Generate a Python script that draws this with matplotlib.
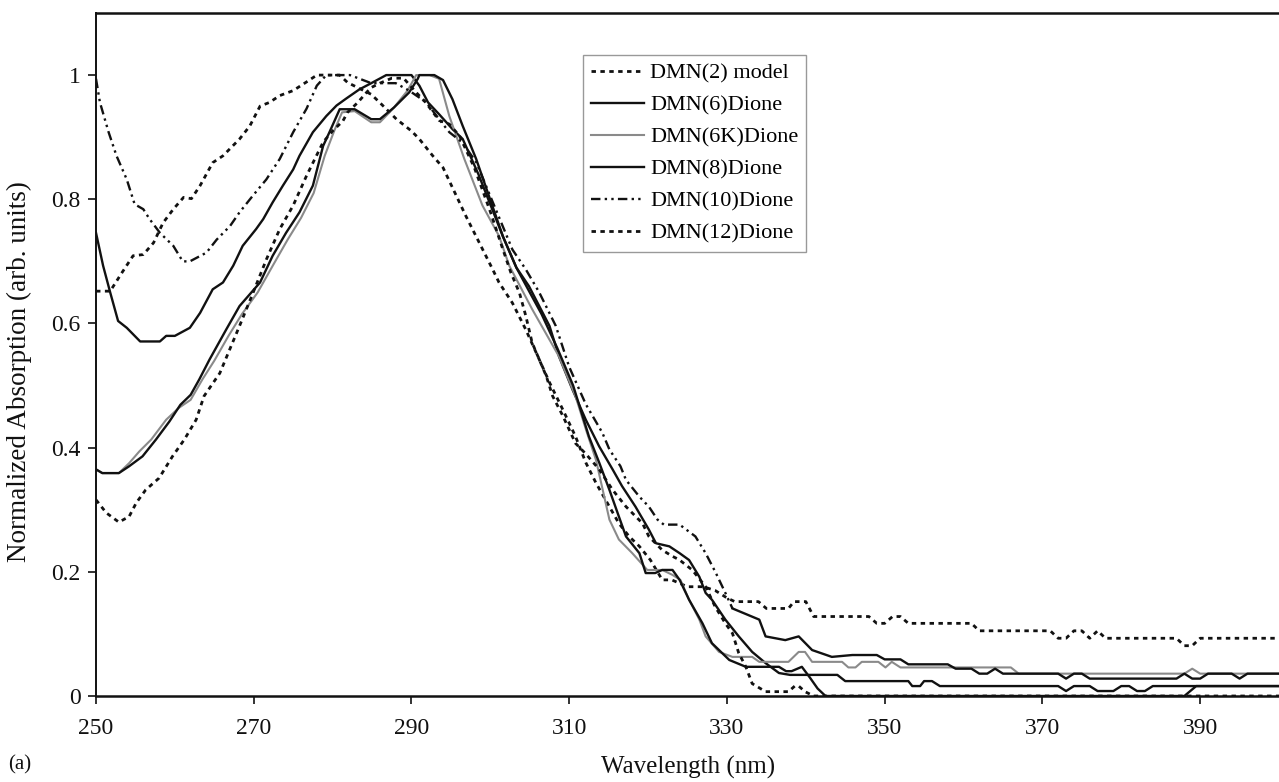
import matplotlib
matplotlib.use("Agg")
import matplotlib.pyplot as plt
from matplotlib.lines import Line2D

dmn2_model = [
    (250, 0.652), (251.8, 0.652), (253.3, 0.682), (254.7, 0.709), (256, 0.711),
    (257.3, 0.73), (258.5, 0.762), (259.8, 0.784), (261.1, 0.803), (262.1, 0.801),
    (263.2, 0.822), (264.8, 0.859), (266.1, 0.87), (268.2, 0.897), (269.5, 0.918),
    (270.8, 0.95), (272, 0.956), (273.3, 0.967), (275, 0.975), (276.7, 0.989),
    (278, 1.0), (280.9, 1.0), (281.9, 0.988), (284.9, 0.969), (286.2, 0.953),
    (288.1, 0.929), (290, 0.91), (291, 0.897), (292.7, 0.87), (294, 0.851),
    (296.9, 0.773), (300.3, 0.687), (301.1, 0.666), (302.8, 0.633), (304.5, 0.59),
    (306.2, 0.542), (307.5, 0.505), (309.2, 0.461), (310.8, 0.418), (312.1, 0.376),
    (313.4, 0.343), (316.3, 0.278), (317.6, 0.257), (318.9, 0.241), (320.3, 0.219),
    (321.8, 0.187), (323, 0.187), (325, 0.176), (327, 0.176), (328.5, 0.17),
    (330, 0.158), (331, 0.152), (334, 0.152), (335, 0.141), (337.8, 0.141),
    (338.5, 0.152), (340, 0.152), (341, 0.128), (348, 0.128), (349, 0.117),
    (350, 0.117), (351, 0.128), (352, 0.128), (353, 0.117), (361, 0.117),
    (362, 0.105), (371, 0.105), (372, 0.093), (373, 0.093), (374, 0.105),
    (375, 0.105), (376, 0.093), (377, 0.105), (378, 0.093), (387, 0.093),
    (388, 0.081), (389, 0.081), (390, 0.093), (400, 0.093),
]

dmn6 = [
    (250, 0.746), (250.9, 0.693), (251.8, 0.65), (252.8, 0.604), (253.9, 0.593),
    (255.6, 0.571), (258.1, 0.571), (258.9, 0.58), (260, 0.58), (261.9, 0.593),
    (263.2, 0.617), (264.8, 0.655), (266.1, 0.666), (267.4, 0.693), (268.6, 0.725),
    (270.3, 0.752), (271.2, 0.768), (272.4, 0.795), (273.7, 0.822), (275, 0.848),
    (275.8, 0.87), (277.5, 0.908), (279.2, 0.934), (280.5, 0.951), (281.7, 0.962),
    (283.4, 0.977), (284.9, 0.987), (286.8, 1.0), (290, 1.0), (291, 0.983),
    (292.1, 0.956), (293.5, 0.937), (295.2, 0.913), (296.5, 0.897), (298.5, 0.84),
    (301.6, 0.74), (303.3, 0.69), (304.9, 0.66), (306.2, 0.628), (307.5, 0.596),
    (308.7, 0.547), (310.4, 0.494), (312.1, 0.445), (313.8, 0.402), (315.5, 0.365),
    (316.7, 0.338), (318.4, 0.305), (320.1, 0.268), (321, 0.246), (322.7, 0.241),
    (324, 0.23), (325.2, 0.219), (326.5, 0.192), (327.3, 0.166), (328.1, 0.155),
    (329.8, 0.123), (331.5, 0.096), (333.2, 0.071), (334.9, 0.053), (336.6, 0.037),
    (338, 0.034), (344, 0.034), (345, 0.024), (353, 0.024), (353.5, 0.016),
    (354.5, 0.016), (355, 0.024), (356, 0.024), (357, 0.016), (372, 0.016),
    (373, 0.008), (374, 0.016), (376, 0.016), (377, 0.008), (379, 0.008),
    (380, 0.016), (381, 0.016), (382, 0.008), (383, 0.008), (384, 0.016),
    (400, 0.016),
]

dmn6k = [
    (250, 0.365), (250.8, 0.359), (252.9, 0.359), (254.2, 0.375), (255.5, 0.394),
    (257, 0.413), (258.9, 0.445), (260.5, 0.464), (262, 0.477), (263.5, 0.51),
    (265, 0.54), (266.8, 0.58), (268.5, 0.615), (270.5, 0.65), (272.5, 0.695),
    (274.3, 0.735), (276, 0.77), (277.6, 0.81), (279, 0.87), (280.2, 0.91),
    (281.2, 0.94), (282.8, 0.942), (284.9, 0.924), (286, 0.924), (287.6, 0.945),
    (289.5, 0.975), (290.6, 1.0), (292.3, 1.0), (293.5, 0.994), (294.8, 0.934),
    (296.7, 0.865), (299, 0.79), (301.1, 0.741), (302.4, 0.693), (305.3, 0.623),
    (308.7, 0.547), (310.8, 0.483), (312.1, 0.43), (313.4, 0.38), (315.1, 0.284),
    (316.3, 0.252), (318, 0.23), (319.9, 0.203), (321.8, 0.203), (323.1, 0.195),
    (324.1, 0.187), (325.2, 0.155), (326.5, 0.123), (327.3, 0.096), (329, 0.071),
    (330.7, 0.063), (333.2, 0.063), (334.1, 0.055), (337.8, 0.055), (339.1, 0.071),
    (339.9, 0.071), (340.8, 0.055), (344.6, 0.055), (345.4, 0.046), (346.3, 0.046),
    (347.1, 0.055), (349.2, 0.055), (350.1, 0.046), (350.9, 0.055), (352, 0.046),
    (366, 0.046), (367, 0.036), (388, 0.036), (389, 0.044), (390, 0.036),
    (400, 0.036),
]

dmn8 = [
    (250, 0.365), (250.8, 0.359), (252.9, 0.359), (254.2, 0.37), (255.9, 0.386),
    (257.6, 0.413), (259.3, 0.442), (260.7, 0.469), (262, 0.485), (263.1, 0.51),
    (264.4, 0.542), (266.5, 0.59), (268.2, 0.628), (270.8, 0.666), (272.4, 0.709),
    (274.1, 0.746), (275.8, 0.779), (277.5, 0.822), (278.8, 0.886), (279.6, 0.908),
    (280.9, 0.945), (282.8, 0.945), (284.9, 0.929), (286, 0.929), (287.8, 0.948),
    (289.7, 0.972), (290.8, 0.994), (291, 1.0), (292.9, 1.0), (294, 0.992),
    (295.2, 0.961), (296.5, 0.918), (298.2, 0.865), (301.6, 0.74), (303.3, 0.69),
    (305, 0.65), (306.5, 0.615), (308.5, 0.56), (310.5, 0.5), (312.5, 0.418),
    (313.8, 0.376), (315.1, 0.332), (316.3, 0.289), (317.2, 0.257), (318.9, 0.23),
    (319.7, 0.198), (320.9, 0.198), (321.8, 0.203), (323.1, 0.203), (324, 0.187),
    (325.2, 0.155), (326.9, 0.117), (328.1, 0.085), (330.3, 0.058), (332.4, 0.047),
    (336.6, 0.047), (337.5, 0.04), (338.2, 0.04), (339.5, 0.047), (340.5, 0.03),
    (341.5, 0.012), (342.5, 0.0), (388, 0.0), (389.5, 0.016), (400, 0.016),
]

dmn10 = [
    (250, 0.994), (250.5, 0.956), (251.6, 0.908), (252.6, 0.87), (253.9, 0.832),
    (254.9, 0.792), (256, 0.784), (256.8, 0.768), (258.1, 0.746), (259.8, 0.725),
    (261, 0.70), (261.9, 0.70), (264, 0.714), (265.3, 0.735), (267, 0.757),
    (268.2, 0.779), (269.9, 0.806), (271.6, 0.832), (273.3, 0.865), (275, 0.908),
    (276.7, 0.946), (278, 0.983), (279.2, 1.0), (282.2, 1.0), (284.9, 0.987),
    (288, 0.987), (289.7, 0.975), (291.9, 0.956), (293.5, 0.929), (294.8, 0.908),
    (296.4, 0.892), (298.2, 0.86), (302.8, 0.719), (304.5, 0.687), (306.2, 0.65),
    (308.3, 0.596), (310, 0.53), (312.1, 0.47), (314.2, 0.424), (315.1, 0.397),
    (316.5, 0.37), (317.2, 0.348), (318.9, 0.321), (320.1, 0.305), (321.2, 0.284),
    (322, 0.276), (324, 0.276), (326, 0.257), (327.3, 0.23), (328.6, 0.198),
    (329.8, 0.166), (330.7, 0.141), (334.1, 0.123), (334.9, 0.096), (337.4, 0.09),
    (339.1, 0.096), (340.8, 0.074), (343.3, 0.063), (345.9, 0.066), (349, 0.066),
    (350, 0.059), (352, 0.059), (353, 0.051), (358, 0.051), (359, 0.044),
    (361, 0.044), (362, 0.036), (363, 0.036), (364, 0.044), (365, 0.036),
    (372, 0.036), (373, 0.028), (374, 0.036), (375, 0.036), (376, 0.028),
    (387, 0.028), (388, 0.036), (389, 0.028), (390, 0.028), (391, 0.036),
    (394, 0.036), (395, 0.028), (396, 0.036), (400, 0.036),
]

dmn12 = [
    (250, 0.316), (251.3, 0.295), (252.9, 0.28), (254.2, 0.289), (255.1, 0.311),
    (256.3, 0.332), (258, 0.351), (259.7, 0.386), (261.2, 0.413), (262.7, 0.445),
    (263.7, 0.483), (265.7, 0.52), (268.2, 0.596), (269.9, 0.649), (271.6, 0.703),
    (273.3, 0.752), (275, 0.79), (276.7, 0.838), (278.8, 0.892), (280, 0.91),
    (281.3, 0.926), (281.9, 0.94), (283.2, 0.956), (284.3, 0.972), (284.9, 0.98),
    (286, 0.987), (287.5, 0.995), (289, 0.995), (290.6, 0.972), (291.8, 0.956),
    (293.5, 0.927), (294.8, 0.921), (296.1, 0.902), (298, 0.85), (300, 0.78),
    (301.6, 0.719), (302.6, 0.682), (303.7, 0.649), (304.5, 0.612), (305.3, 0.569),
    (306.2, 0.542), (307.1, 0.515), (307.9, 0.483), (309.2, 0.451), (310, 0.429),
    (310.8, 0.407), (312.1, 0.39), (313.8, 0.365), (315.5, 0.332), (317.2, 0.305),
    (319.3, 0.278), (320.1, 0.257), (321.8, 0.235), (323.1, 0.225), (324, 0.219),
    (325.6, 0.203), (327.3, 0.176), (328.5, 0.144), (329.8, 0.117), (330.7, 0.101),
    (331.5, 0.069), (332.4, 0.047), (333.2, 0.02), (334.9, 0.007), (337.8, 0.007),
    (338.6, 0.016), (339.1, 0.016), (339.9, 0.007), (341, 0.0), (400, 0.0),
]

labels = ["DMN(2) model", "DMN(6)Dione", "DMN(6K)Dione",
          "DMN(8)Dione", "DMN(10)Dione", "DMN(12)Dione"]
x_ticks = [250, 270, 290, 310, 330, 350, 370, 390]
y_ticks = [0, 0.2, 0.4, 0.6, 0.8, 1]
y_tick_labels = ["0", "0.2", "0.4", "0.6", "0.8", "1"]

# ── styles ───────────────────────────────────────────────────────────────────
DOT = (0, (1.6, 1.6))
DASHDOTDOT = (0, (4.0, 1.8, 1.0, 1.8, 1.0, 1.8))
INK = "#111111"
styles = [
    dict(color=INK, lw=2.0, ls=DOT),
    dict(color=INK, lw=1.7, ls="-"),
    dict(color="#8a8a8a", lw=1.5, ls="-"),
    dict(color=INK, lw=1.7, ls="-"),
    dict(color=INK, lw=1.7, ls=DASHDOTDOT),
    dict(color=INK, lw=2.0, ls=DOT),
]
# the original software restarts the dash pattern on every short segment,
# so the flat tail of the dash-dot series reads as a solid line
DASH_TAIL_START = 330.7

plt.rcParams["font.family"] = ["Liberation Serif", "DejaVu Serif"]

fig = plt.figure(figsize=(12.79, 7.82), dpi=100)
ax = fig.add_axes([96 / 1279, 86 / 782, 1 - 96 / 1279, 683 / 782])

series = [dmn2_model, dmn6, dmn6k, dmn8, dmn10, dmn12]
handles = []
for data, label, st in zip(series, labels, styles):
    xs = [p[0] for p in data]
    ys = [p[1] for p in data]
    if st["ls"] is DASHDOTDOT:
        k = xs.index(DASH_TAIL_START)
        ax.plot(xs[:k + 1], ys[:k + 1], color=st["color"], lw=st["lw"], ls=st["ls"])
        ax.plot(xs[k:], ys[k:], color=st["color"], lw=st["lw"], ls="-")
    else:
        ax.plot(xs, ys, color=st["color"], lw=st["lw"], ls=st["ls"])
    handles.append(Line2D([], [], color=st["color"], lw=st["lw"], ls=st["ls"]))

ax.set_xlim(250, 400)
ax.set_ylim(0, 1.1)
ax.set_xticks(x_ticks)
ax.set_yticks(y_ticks)
ax.set_yticklabels(y_tick_labels)
ax.tick_params(axis="both", direction="out", length=6, width=1.2,
               labelsize=17, colors=INK)
ax.tick_params(axis="x", pad=10)
ax.tick_params(axis="y", pad=5)

for side in ("left", "bottom", "top"):
    ax.spines[side].set_color(INK)
ax.spines["left"].set_linewidth(1.4)
ax.spines["bottom"].set_linewidth(1.8)
ax.spines["top"].set_linewidth(1.8)
ax.spines["right"].set_visible(False)

fig.text(688 / 1279, 1 - 767 / 782, "Wavelength (nm)", ha="center",
         va="center", fontsize=18, color=INK)
fig.text(19 / 1279, 1 - 372 / 782, "Normalized Absorption (arb. units)",
         rotation=90, ha="center", va="center", fontsize=19.5, color=INK)
fig.text(8 / 1279, 1 - 765 / 782, "(a)", ha="left", va="center",
         fontsize=15, color=INK)

leg = ax.legend(handles, labels, loc="upper left",
                bbox_to_anchor=(583 / 1279, 1 - 55 / 782),
                bbox_transform=fig.transFigure,
                fontsize=16, frameon=True, fancybox=False, framealpha=1,
                edgecolor="#999999", handlelength=2.4, handletextpad=0.28,
                labelspacing=0.52, borderpad=0.35, borderaxespad=0)
leg.get_frame().set_linewidth(1.0)

fig.savefig("out.png", dpi=100)
